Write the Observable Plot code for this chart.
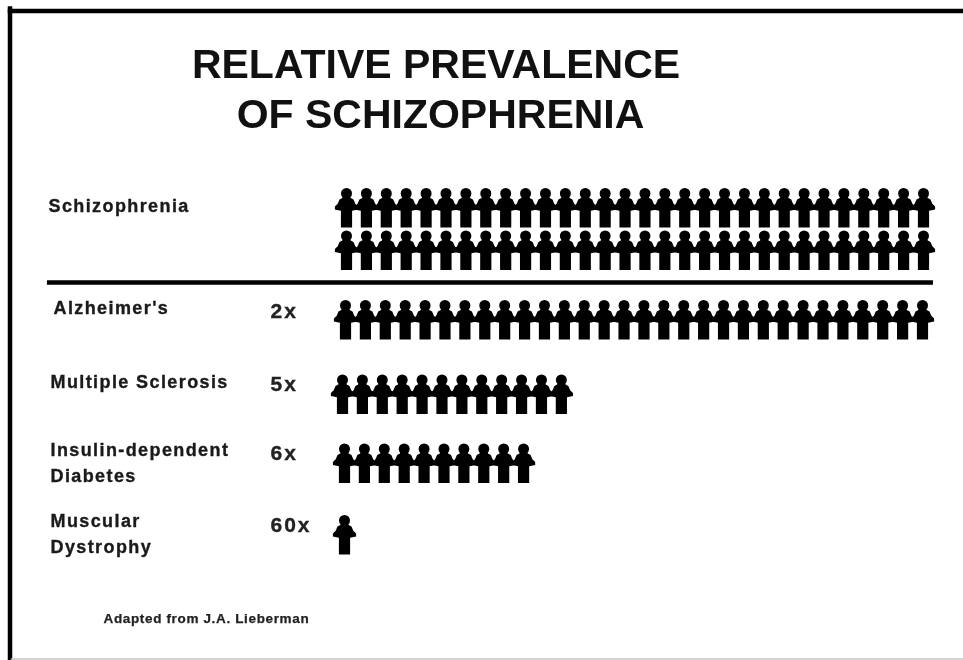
<!DOCTYPE html>
<html><head><meta charset="utf-8">
<style>html,body{margin:0;padding:0;background:#fff}svg{display:block;filter:blur(0.6px)}
.lbl{letter-spacing:1.4px;stroke:#1a1a1a;stroke-width:.35px}
.rat{letter-spacing:2px;stroke:#222;stroke-width:.35px}
.cre{letter-spacing:0.65px;stroke:#222;stroke-width:.25px}</style>
<script src="https://cdn.jsdelivr.net/npm/d3@7"></script>
<script src="https://cdn.jsdelivr.net/npm/@observablehq/plot@0.6"></script>
</head><body><script>
const rows = ["Schizophrenia (row 1)","Schizophrenia (row 2)","Alzheimer's","Multiple Sclerosis","Insulin-dependent Diabetes","Muscular Dystrophy"];
const counts = [30,30,30,12,10,1];
const ratioLabels = ["2x","5x","6x","60x"];
const titleLine1 = "RELATIVE PREVALENCE";
const titleLine2 = "OF SCHIZOPHRENIA";
const credit = "Adapted from J.A. Lieberman";

// Paper-doll icon, about 22 wide by 39 tall around its centre
const person = {draw(c,size){
  const k = Math.sqrt(size/Math.PI);
  const outline = [[-4,-11],[4,-11],[4.2,-10],[7,-8.4],[8.8,-4.2],[11.6,-1.6],[11.6,1.6],[5.6,2.8],[5.6,19.5],[-5.6,19.5],[-5.6,2.8],[-11.6,1.6],[-11.6,-1.6],[-8.8,-4.2],[-7,-8.4],[-4.2,-10]];
  outline.forEach(([x,y],i)=> i ? c.lineTo(x*k,y*k) : c.moveTo(x*k,y*k));
  c.closePath();
  c.moveTo(5.5*k,-14.5*k);
  c.arc(0,-14.5*k,5.5*k,0,2*Math.PI);
  c.closePath();
}};

const font = "'Liberation Sans', Arial, sans-serif";
const rowDots = (i,dx) => Plot.dot(d3.range(counts[i]),{x:d=>d,y:()=>i,dx,symbol:person,r:1,fill:"#000",stroke:null});
const label = (text,i,dx,dy) => Plot.text([text],{y:()=>i,frameAnchor:"left",dx,dy,textAnchor:"start",lineAnchor:"bottom",lineHeight:1.44,fontSize:18,fontWeight:"bold",fill:"#1a1a1a",className:"lbl"});
const ratio = (text,i,dy) => Plot.text([text],{y:()=>i,frameAnchor:"left",dx:270,dy,textAnchor:"start",lineAnchor:"bottom",fontSize:21,fontWeight:"bold",fill:"#222",className:"rat"});

const chart = Plot.plot({
  width:963,height:660,margin:0,
  style:{background:"#fff",fontFamily:font,color:"#000"},
  x:{domain:[0,29],range:[346,923],axis:null},
  y:{type:"linear",domain:[0,1,2,3,4,5],range:[207.5,250,319.5,394,463,534.5],axis:null},
  marks:[
    Plot.frame({anchor:"top",insetTop:10.5,insetLeft:9.5,stroke:"#000",strokeWidth:4.5}),
    Plot.frame({anchor:"left",insetLeft:9.5,insetTop:8,insetBottom:1,stroke:"#000",strokeWidth:4.5}),
    Plot.frame({anchor:"bottom",insetBottom:1.5,insetLeft:11,stroke:"#c4c4c4",strokeWidth:1.5}),
    Plot.text([titleLine1],{frameAnchor:"top",dx:-46,dy:77,textAnchor:"middle",lineAnchor:"bottom",fontSize:41,fontWeight:"bold",fill:"#111"}),
    Plot.text([titleLine2],{frameAnchor:"top",dx:-41.5,dy:127,textAnchor:"middle",lineAnchor:"bottom",fontSize:41,fontWeight:"bold",fill:"#111"}),
    ...rows.map((_,i)=>rowDots(i,[0,0,-1,-4,-2,-2][i])),
    Plot.ruleY([1.46],{x1:-15.03,x2:29.5,stroke:"#000",strokeWidth:4.5}),
    label("Schizophrenia",0,48,3.5),
    label("Alzheimer's",2,53,-6.5),
    label("Multiple Sclerosis",3,50,-7),
    label("Insulin-dependent\nDiabetes",4,50,18.5),
    label("Muscular\nDystrophy",5,50,18),
    ratio(ratioLabels[0],2,-2.5),
    ratio(ratioLabels[1],3,-4),
    ratio(ratioLabels[2],4,-3.5),
    ratio(ratioLabels[3],5,-3.5),
    Plot.text([credit],{frameAnchor:"bottom-left",dx:103,dy:-38,textAnchor:"start",lineAnchor:"bottom",fontSize:13.5,fontWeight:"bold",fill:"#222",className:"cre"})
  ]
});
document.body.appendChild(chart);
</script></body></html>
